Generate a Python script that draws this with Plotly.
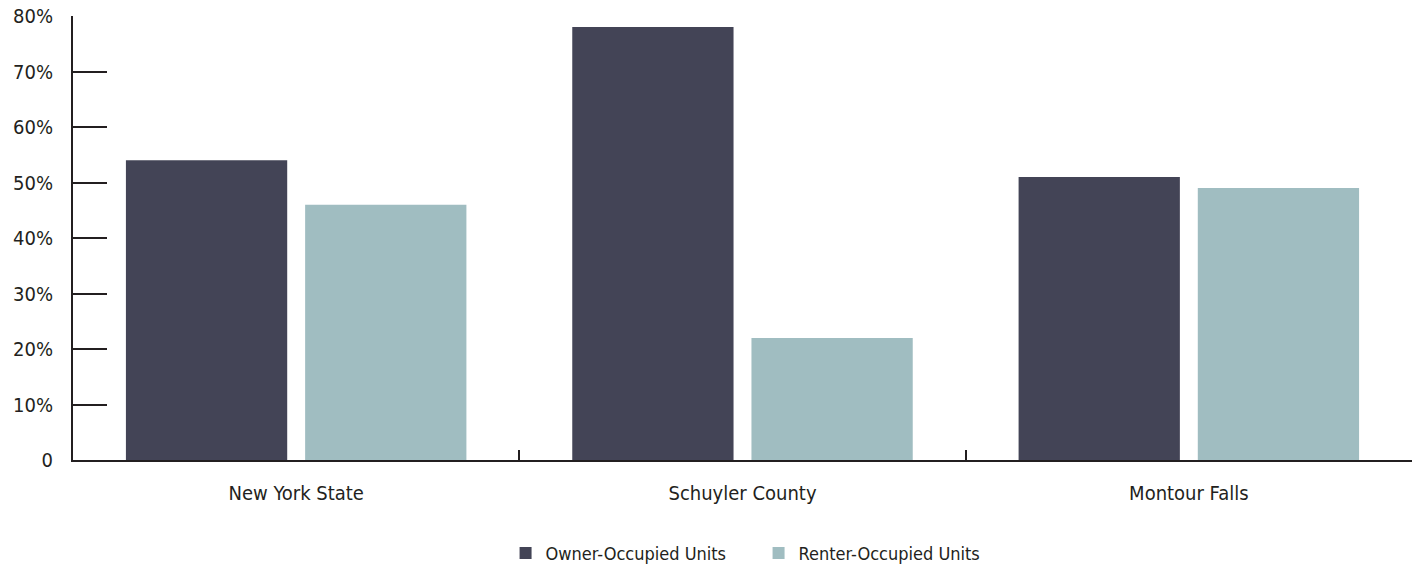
import plotly.graph_objects as go

categories = ["New York State", "Schuyler County", "Montour Falls"]
owner = [54, 78, 51]
renter = [46, 22, 49]
y_ticks = [0, 10, 20, 30, 40, 50, 60, 70, 80]
y_tick_labels = ["0", "10%", "20%", "30%", "40%", "50%", "60%", "70%", "80%"]

FONT = "DejaVu Sans Condensed, Liberation Sans Narrow, Roboto, sans-serif"
TXT = "#231f20"

fig = go.Figure()
fig.add_trace(go.Bar(name="Owner-Occupied Units", x=categories, y=owner,
                     marker=dict(color="#434456", line=dict(width=0))))
fig.add_trace(go.Bar(name="Renter-Occupied Units", x=categories, y=renter,
                     marker=dict(color="#a0bdc1", line=dict(width=0))))

fig.update_layout(
    width=1422, height=569,
    margin=dict(l=73, r=10, t=16, b=109, autoexpand=False),
    paper_bgcolor="white", plot_bgcolor="white",
    barmode="group", bargap=0.197, bargroupgap=0.1,
    font=dict(family=FONT, size=20, color=TXT),
    showlegend=True,
    legend=dict(orientation="h", x=0.512, xanchor="center", y=-0.21, yanchor="middle",
                font=dict(size=18, color=TXT), traceorder="normal",
                entrywidth=208, entrywidthmode="pixels"),
    hovermode=False,
)
fig.update_xaxes(
    automargin=False,
    showline=True, linecolor=TXT, linewidth=2,
    ticks="inside", tickson="boundaries", ticklen=10, tickwidth=2, tickcolor=TXT,
    showgrid=False, zeroline=False,
    tickfont=dict(size=20, color=TXT), ticklabelstandoff=14,
)
fig.update_yaxes(
    automargin=False,
    range=[0, 80], tickvals=y_ticks, ticktext=y_tick_labels,
    showline=True, linecolor=TXT, linewidth=2,
    ticks="inside", ticklen=34, tickwidth=2, tickcolor=TXT,
    showgrid=False, zeroline=False,
    tickfont=dict(size=20, color=TXT), ticklabelstandoff=14,
)
fig.write_html("out.html", config={"displayModeBar": False},
               post_script="document.body.style.margin='0';document.body.style.overflow='hidden';")
